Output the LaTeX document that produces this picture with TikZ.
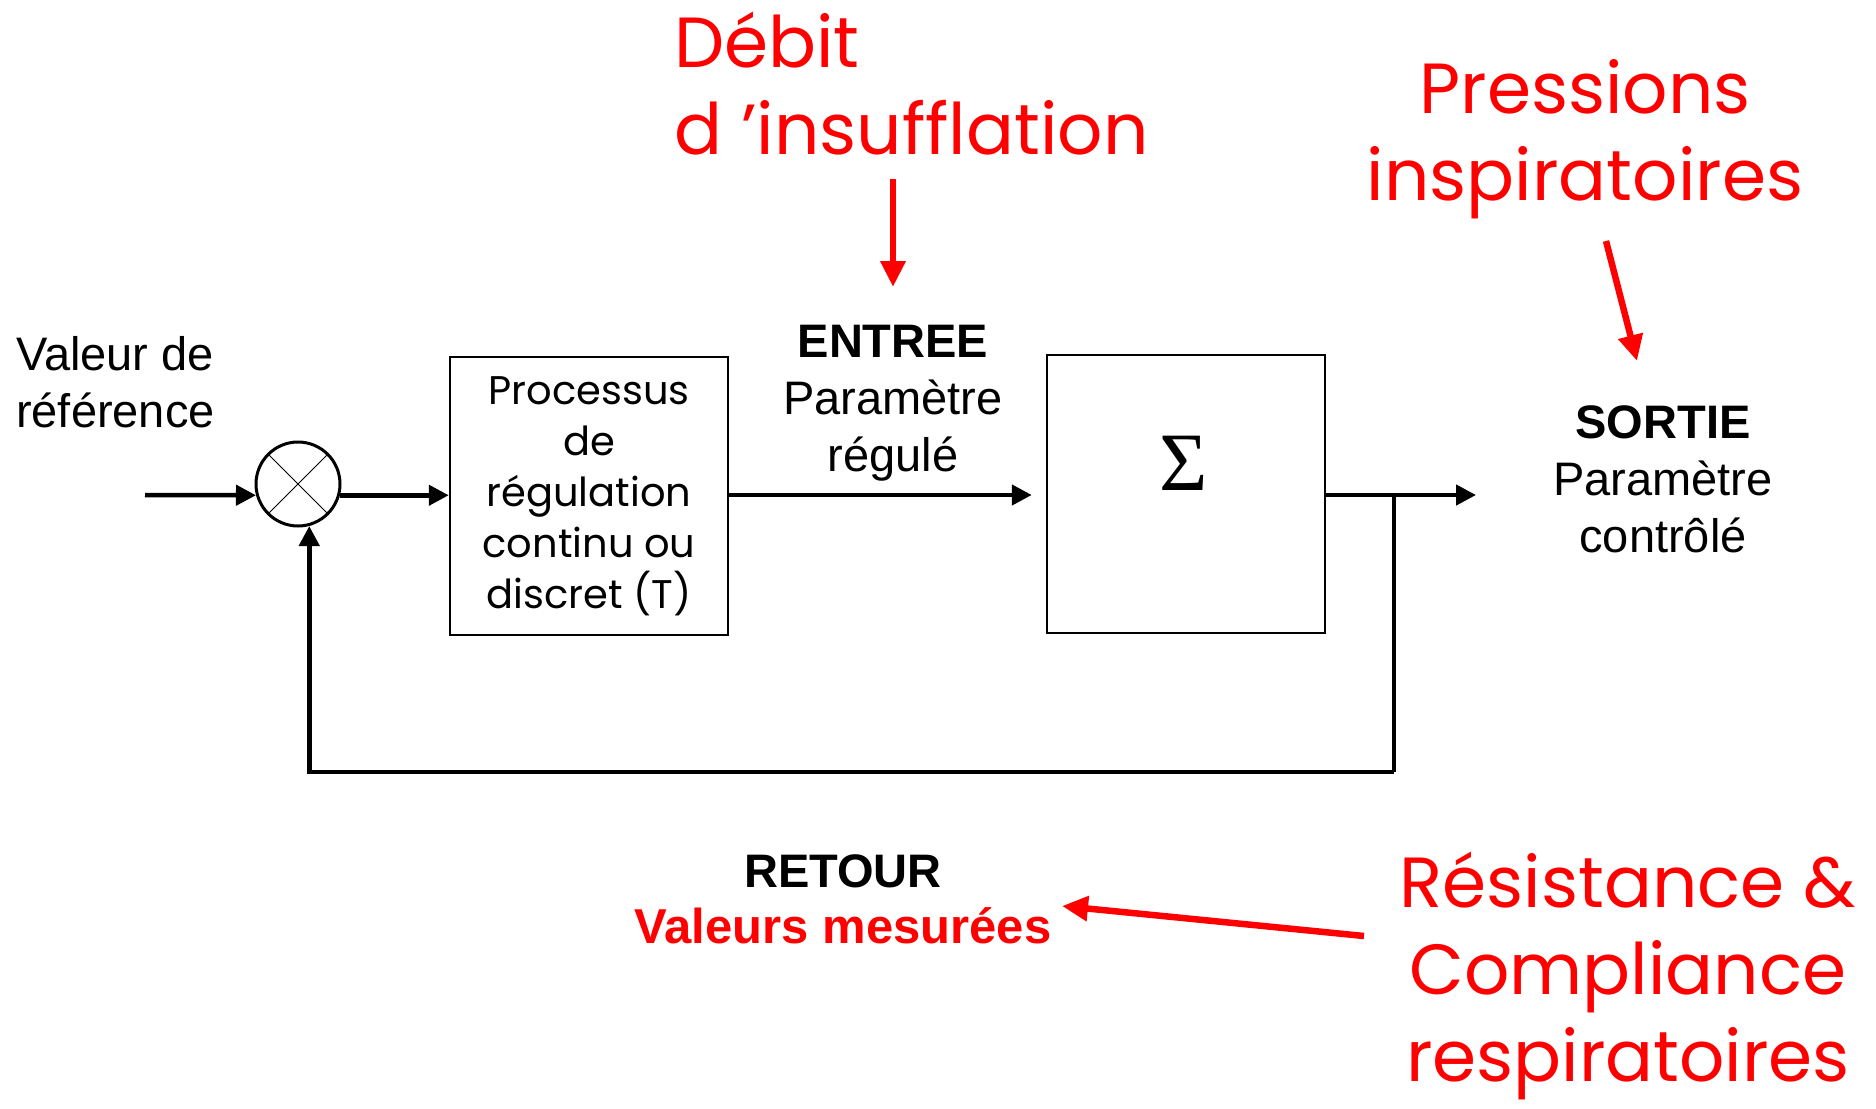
\documentclass[tikz,border=0pt]{standalone}
\usepackage{fontspec}
\setmainfont{Liberation Sans}
\newfontfamily\hand{Poppins}
\newfontfamily\serifsym{Liberation Serif}
\usetikzlibrary{arrows.meta}
\definecolor{alertred}{RGB}{255,0,0}

\begin{document}
\begin{tikzpicture}[x=1pt,y=-1pt,
  wire/.style={line width=4.5pt},
  arr/.style={wire,-{Triangle[length=20pt,width=20pt]}},
  redarr/.style={line width=6.5pt,draw=alertred,-{Triangle[length=26pt,width=24pt]}},
  blk/.style={draw,line width=2.5pt,inner sep=0pt,minimum width=278pt,minimum height=278pt},
  lbl/.style={font=\fontsize{47}{57}\selectfont,align=center,inner sep=0pt},
  handbox/.style={font=\hand\fontsize{40}{51}\selectfont,align=center,inner sep=0pt},
  handred/.style={font=\hand\fontsize{71}{87}\selectfont,text=alertred,inner sep=0pt},
]
\useasboundingbox (0,0) rectangle (1876,1108);

% summing junction
\node[circle,draw,line width=3pt,minimum size=84pt,inner sep=0pt] (sum) at (298,484) {};
\draw[line width=1pt] (sum.45) -- (sum.225) (sum.135) -- (sum.315);

% blocks
\node[blk,handbox] (proc) at (589,496) {Processus\\de\\régulation\\continu ou\\discret (T)};
\node[blk] (plant) at (1186,494) {};
\node[inner sep=0pt,font=\serifsym\fontsize{83}{90}\selectfont] (sig) at (1184,463) {Σ};

% signal path
\coordinate (in) at (145,495);
\coordinate (out) at (1476,495);
\coordinate (tap) at (1394,495);
\coordinate (low) at (1394,772);

\draw[arr] (in) -- (sum.195);
\draw[arr] (sum.-15) -- (sum.-15 -| proc.west);
\draw[arr,shorten >=14pt] (proc.east |- 0,495) -- (plant.west |- 0,495);
\draw[arr] (plant.east |- out) -- (out);
\draw[wire] (tap) -- (low);
\draw[arr] (low) -- (sum.-75 |- low) -- (sum.-75);

% labels (base anchor = baseline of the last line)
\node[lbl,align=left,anchor=base west] (ref) at (16,427) {Valeur de\\référence};
\node[lbl,anchor=base] (entree) at (893,471) {\textbf{ENTREE}\\Paramètre\\régulé};
\node[lbl,anchor=base] (sortie) at (1663,552) {\textbf{SORTIE}\\Paramètre\\contrôlé};
\node[lbl,anchor=base,font=\fontsize{47}{56}\selectfont] (retour) at (843,943) {\textbf{RETOUR}\\\textcolor{alertred}{\fontsize{49}{56}\selectfont\textbf{Valeurs mesurées}}};

% annotations
\node[handred,align=left,anchor=base west] (debit) at (674,154) {Débit\\d ’insufflation};
\node[handred,align=center,anchor=base] (press) at (1585,200) {Pressions\\inspiratoires};
\node[handred,align=center,anchor=base] (resist) at (1628,1081) {Résistance \&\\Compliance\\respiratoires};

\coordinate (debitTail) at (893,179);
\coordinate (debitTip) at (893,287);
\draw[redarr] (debitTail) -- (debitTip);

\coordinate (pressTail) at (1606,241);
\coordinate (pressTip) at (1637,361);
\draw[redarr] (pressTail) -- (pressTip);

\coordinate (resistTail) at (1364,936);
\coordinate (resistTip) at (1062,906);
\draw[redarr] (resistTail) -- (resistTip);
\end{tikzpicture}
\end{document}
